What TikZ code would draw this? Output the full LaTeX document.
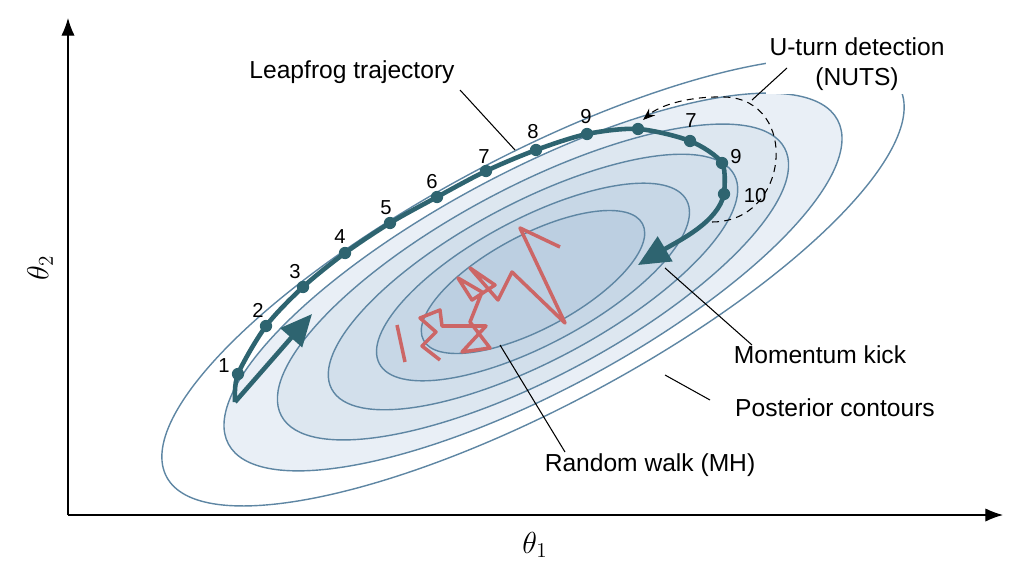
\documentclass[tikz,border=0pt]{standalone}
\usepackage{fontspec}
\setmainfont{Liberation Sans}
\usetikzlibrary{arrows.meta}
\definecolor{traj}{HTML}{2E6470}
\definecolor{cline}{HTML}{5E86A3}
\definecolor{walk}{HTML}{CC6666}
\definecolor{fillA}{HTML}{E9EFF6}
\definecolor{fillB}{HTML}{DDE7F0}
\definecolor{fillC}{HTML}{D2DFEB}
\definecolor{fillD}{HTML}{C7D7E6}
\definecolor{fillE}{HTML}{BCCFE1}
\tikzset{
  contour/.style={draw=cline, thick},
  lbl/.style={font=\fontsize{14}{17}\selectfont, align=center, fill=white, inner sep=2pt},
  num/.style={font=\fontsize{11.5}{13}\selectfont},
  leader/.style={draw=black, semithick},
  dot/.style={circle, fill=traj, inner sep=0pt, minimum size=7pt}
}
\begin{document}
\begin{tikzpicture}[x=0.02cm, y=-0.02cm]

\useasboundingbox (0,0) rectangle (1024,571);

%% contours
\begin{scope}[shift={(533,282)}, rotate=28]
  \draw[contour] (0,0) ellipse (415 and 125);
  \draw[contour, fill=fillA] (0,0) ellipse (345 and 110);
  \draw[contour, fill=fillB] (0,0) ellipse (285 and 95);
  \draw[contour, fill=fillC] (0,0) ellipse (228 and 79);
  \draw[contour, fill=fillD] (0,0) ellipse (174 and 63);
  \draw[contour, fill=fillE] (0,0) ellipse (124 and 47);
\end{scope}

%% axes
\coordinate (o) at (68,515);
\coordinate (xend) at (1003,515);
\coordinate (yend) at (68,18);
\draw[semithick, -{Latex[length=10pt]}] (o) -- (xend);
\draw[semithick, -{Latex[length=10pt]}] (o) -- (yend);
\node[font=\LARGE] (th1) at (535,545) {$\theta_1$};
\node[font=\LARGE, rotate=90] (th2) at (40,268) {$\theta_2$};

%% random walk
\draw[walk, line width=2pt, line join=round]
  (560,247) -- (520,228) -- (565,323) -- (512,272) -- (498,300) -- (470,268)
  -- (495,285) -- (472,300) -- (458,278) -- (482,292) -- (470,322) -- (490,348)
  -- (462,352) -- (486,326) -- (442,326) -- (440,310) -- (420,318) -- (436,332)
  -- (422,346) -- (440,360);
\draw[walk, line width=2pt] (397,325) -- (405,362);

%% U-turn
\draw[semithick, dash pattern=on 4pt off 3pt, -{Stealth[length=7pt]}] (712,222)
  .. controls (790,222) and (800,100) .. (725,97)
  .. controls (690,96) and (660,105) .. (643,120);

%% leapfrog trajectory
\coordinate (s) at (235,402);
\foreach \n/\x/\y in {1/238/374, 2/266/326, 3/303/287, 4/345/253, 5/390/223, 6/437/197,
    7/486/171, 8/536/150, 9/587/134, 10/638/129, 11/690/141, 12/722/163, 13/724/194}
  \coordinate (p\n) at (\x,\y);
\coordinate (kickend) at (312,314);
\coordinate (mend) at (638,265);
\draw[traj, line width=2.6pt, line join=round] plot[smooth] coordinates
  {(s) (p1) (p2) (p3) (p4) (p5) (p6) (p7) (p8) (p9) (p10) (p11) (p12) (p13)};
\draw[traj, line width=2.6pt, -{Triangle[length=18pt, width=16pt]}] (p13) .. controls (718,222) and (680,240) .. (mend);
\draw[traj, line width=2.6pt, -{Triangle[length=18pt, width=16pt]}] (s) -- (kickend);
\foreach \n in {1,...,13}
  \node[dot] at (p\n) {};
\foreach \n/\t/\x/\y in {1/1/224/366, 2/2/258/310, 3/3/295/272, 4/4/340/237, 5/5/386/208,
    6/6/432/182, 7/7/484/157, 8/8/533/132, 9/9/586/117, 11/7/691/121, 12/9/736/157, 13/10/755/196}
  \node[num] (n\n) at (\x,\y) {\t};

%% labels
\node[lbl] (leap) at (352,72) {Leapfrog trajectory};
\node[lbl] (uturn) at (857,64) {U-turn detection\\(NUTS)};
\node[lbl] (kick) at (820,355) {Momentum kick};
\node[lbl] (post) at (835,408) {Posterior contours};
\node[lbl] (rw) at (650,465) {Random walk (MH)};
\coordinate (leapt) at (515,150);
\coordinate (uturnt) at (752,100);
\coordinate (kickt) at (665,268);
\coordinate (postt) at (665,375);
\coordinate (rwt) at (500,345);
\draw[leader] (460,90) -- (leapt);
\draw[leader] (787,68) -- (uturnt);
\draw[leader] (752,345) -- (kickt);
\draw[leader] (710,400) -- (postt);
\draw[leader] (565,452) -- (rwt);

\end{tikzpicture}
\end{document}
